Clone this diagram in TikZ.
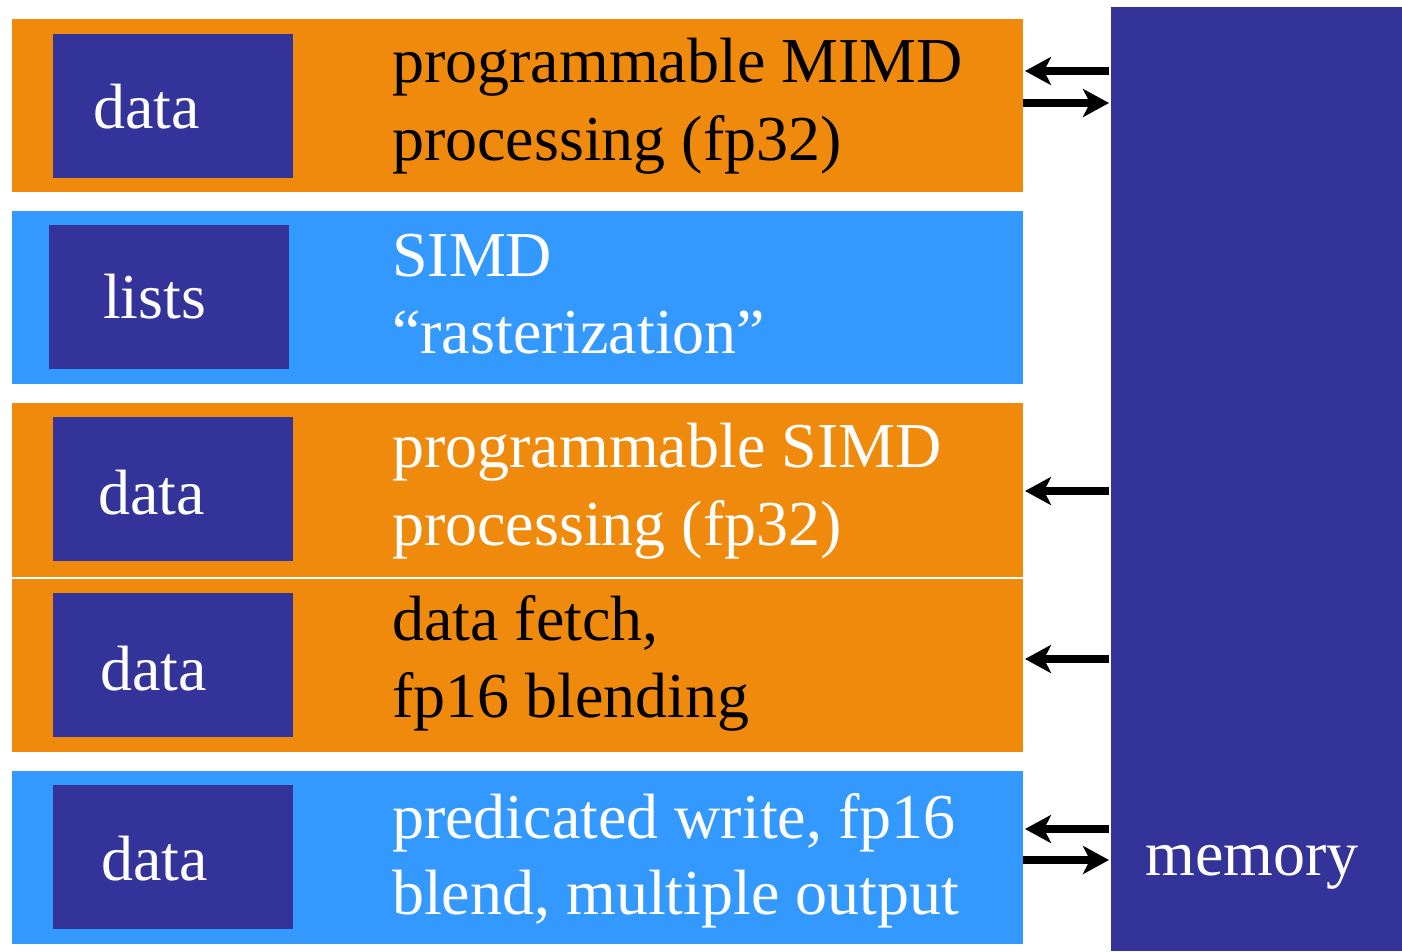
\documentclass[tikz,border=0pt]{standalone}
\usepackage{fontspec}
\setmainfont{Liberation Serif}
\usetikzlibrary{arrows.meta}
\definecolor{stageorange}{RGB}{240,138,12}
\definecolor{stageblue}{RGB}{51,153,255}
\definecolor{deepblue}{RGB}{51,51,153}
\tikzset{
  bar/.style={draw=none, anchor=north west, inner sep=0pt, outer sep=0pt},
  databox/.style={fill=deepblue, draw=none, anchor=north west, inner sep=0pt, outer sep=0pt,
    minimum width=240pt, minimum height=144pt},
  big/.style={font=\fontsize{64}{78}\selectfont, inner sep=0pt, anchor=base west},
  flow/.style={line width=7.5pt, -{Stealth[length=26pt, width=28pt, inset=7pt]}},
}
\begin{document}
\begin{tikzpicture}[x=1pt, y=-1pt]
\useasboundingbox (0,0) rectangle (1402,951);

% pipeline stages
\node[bar, fill=stageorange, minimum width=1011pt, minimum height=173pt] (s1) at (12,19) {};
\node[bar, fill=stageblue,   minimum width=1011pt, minimum height=173pt] (s2) at (12,211) {};
\node[bar, fill=stageorange, minimum width=1011pt, minimum height=174pt] (s3) at (12,403) {};
\node[bar, fill=stageorange, minimum width=1011pt, minimum height=173pt] (s4) at (12,579) {};
\node[bar, fill=stageblue,   minimum width=1011pt, minimum height=173pt] (s5) at (12,771) {};

% memory
\node[bar, fill=deepblue, minimum width=291pt, minimum height=944pt] (mem) at (1111,7) {};
\node[big, text=white] (memlabel) at (1145,875) {memory};

% per-stage data boxes
\node[databox] (b1) at (53,34) {};
\node[databox] (b2) at (49,225) {};
\node[databox] (b3) at (53,417) {};
\node[databox] (b4) at (53,593) {};
\node[databox] (b5) at (53,785) {};
\node[big, text=white] (l1) at (93,128) {data};
\node[big, text=white] (l2) at (103,318) {lists};
\node[big, text=white] (l3) at (98,514) {data};
\node[big, text=white] (l4) at (100,690) {data};
\node[big, text=white] (l5) at (101,880) {data};

% stage descriptions
\node[big, text=black] (t1a) at (392,82) {programmable MIMD};
\node[big, text=black] (t1b) at (392,160) {processing (fp32)};
\node[big, text=white] (t2a) at (392,276) {SIMD};
\node[big, text=white] (t2b) at (392,353) {“rasterization”};
\node[big, text=white] (t3a) at (392,467) {programmable SIMD};
\node[big, text=white] (t3b) at (392,545) {processing (fp32)};
\node[big, text=black] (t4a) at (392,640) {data fetch,};
\node[big, text=black] (t4b) at (392,717) {fp16 blending};
\node[big, text=white] (t5a) at (392,838) {predicated write, fp16};
\node[big, text=white] (t5b) at (392,914) {blend, multiple output};

% memory traffic
\draw[flow] ([xshift=-2pt]mem.west |- 0,71) -- ([xshift=2pt]s1.east |- 0,71);
\draw[flow] (s1.east |- 0,103) -- ([xshift=-2pt]mem.west |- 0,103);
\draw[flow] ([xshift=-2pt]mem.west |- 0,491) -- ([xshift=2pt]s3.east |- 0,491);
\draw[flow] ([xshift=-2pt]mem.west |- 0,659) -- ([xshift=2pt]s4.east |- 0,659);
\draw[flow] ([xshift=-2pt]mem.west |- 0,829) -- ([xshift=2pt]s5.east |- 0,829);
\draw[flow] (s5.east |- 0,860) -- ([xshift=-2pt]mem.west |- 0,860);
\end{tikzpicture}
\end{document}
